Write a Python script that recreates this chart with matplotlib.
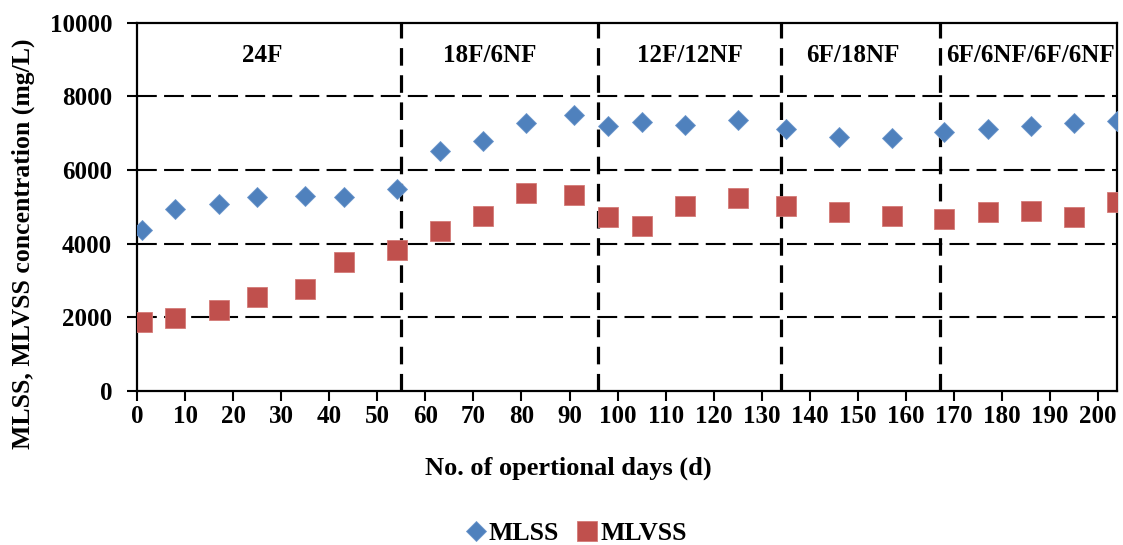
import matplotlib.pyplot as plt

plt.rcParams['font.family'] = ['Liberation Serif', 'DejaVu Serif']
plt.rcParams['font.weight'] = 'bold'

days = [1, 8, 17, 25, 35, 43, 54, 63, 72, 81, 91, 98, 105, 114, 125,
        135, 146, 157, 168, 177, 186, 195, 204]
mlss = [4380, 4940, 5080, 5260, 5300, 5260, 5490, 6510, 6790, 7270, 7490,
        7200, 7310, 7220, 7360, 7110, 6890, 6860, 7030, 7110, 7210, 7270, 7320]
mlvss = [1880, 1980, 2200, 2550, 2760, 3510, 3820, 4330, 4750, 5370, 5310,
         4720, 4470, 5030, 5250, 5030, 4850, 4750, 4680, 4850, 4890, 4720, 5140]

phase_ends = [55, 96, 134, 167]
phase_names = ['24F', '18F/6NF', '12F/12NF', '6F/18NF', '6F/6NF/6F/6NF']
phase_label_x = [26, 73.5, 115, 149, 186]

fig = plt.figure(figsize=(11.23, 5.45), dpi=100)
ax = fig.add_axes([0.122, 0.283, 0.873, 0.675])

for y in [2000, 4000, 6000, 8000]:
    ax.axhline(y, color='black', lw=1.5, dashes=(9.5, 3.5), zorder=1)
for x in phase_ends:
    ax.axvline(x, color='black', lw=2.3, dashes=(5.5, 3), zorder=1)

ax.plot(days, mlss, 'D', color='#4F81BD', markersize=10.5, mec='#6d97cc',
        mew=0.6, label='MLSS', zorder=3)
ax.plot(days, mlvss, 's', color='#C0504D', markersize=15, mec='#d47a77',
        mew=0.6, label='MLVSS', zorder=3)

for name, x in zip(phase_names, phase_label_x):
    ax.text(x, 9100, name, ha='center', va='center', fontsize=18, fontweight='bold')

ax.set_xlim(0, 204)
ax.set_ylim(0, 10000)
ax.set_xticks(range(0, 201, 10))
ax.set_yticks(range(0, 10001, 2000))
ax.tick_params(axis='both', labelsize=18, width=1.5, length=7, direction='out')
ax.tick_params(axis='x', pad=3)
ax.tick_params(axis='y', pad=11)
for lab in ax.get_xticklabels() + ax.get_yticklabels():
    lab.set_fontweight('bold')
for sp in ax.spines.values():
    sp.set_linewidth(1.6)

ax.set_xlabel('No. of opertional days (d)', fontsize=19, fontweight='bold')
ax.set_ylabel('MLSS, MLVSS concentration (mg/L)', fontsize=18.5, fontweight='bold')
ax.xaxis.set_label_coords(0.44, -0.178)
ax.yaxis.set_label_coords(-0.104, 0.40)

fig.legend(loc='center', bbox_to_anchor=(0.512, 0.022), ncol=2, frameon=False,
           markerscale=0.95, handletextpad=0.0, columnspacing=0.6,
           handlelength=1.0, prop={'weight': 'bold', 'size': 18.5})

fig.savefig('out.png', dpi=100)
